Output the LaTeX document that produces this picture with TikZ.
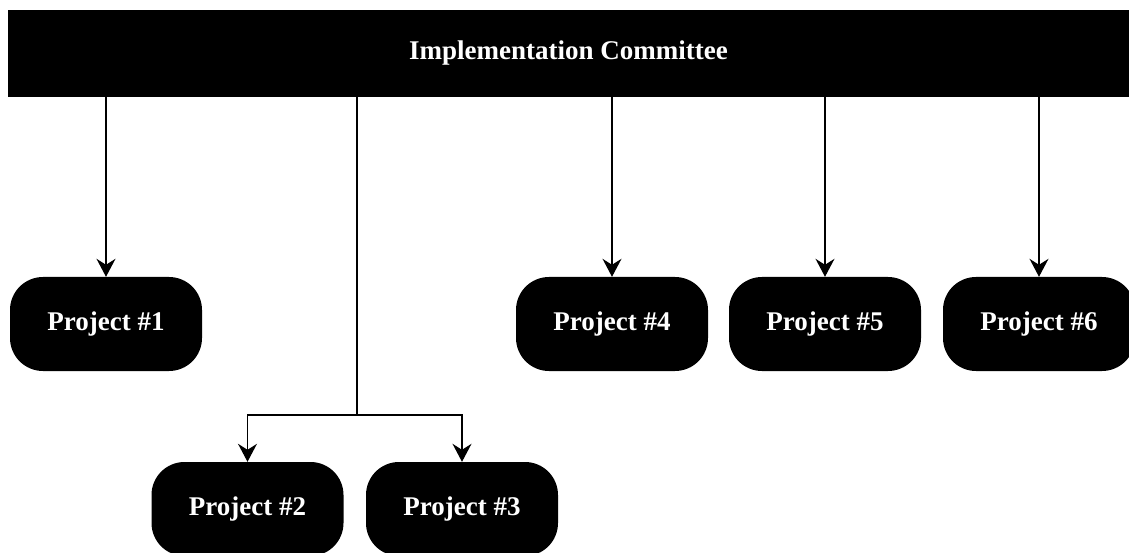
\documentclass[tikz,border=0pt]{standalone}
\usepackage{fontspec}
\setmainfont{Liberation Serif}
\usetikzlibrary{arrows.meta}
\begin{document}
\begin{tikzpicture}[x=1pt,y=1pt,
  bar/.style={fill=black,text=white,inner sep=0pt,minimum width=1121pt,minimum height=87pt,font=\fontsize{27}{30}\selectfont\bfseries},
  proj/.style={fill=black,text=white,rounded corners=33pt,inner sep=0pt,minimum width=192pt,minimum height=94pt,font=\fontsize{27}{30}\selectfont\bfseries},
  conn/.style={line width=1.2pt,-{Stealth[length=18pt,width=19pt,inset=6pt]}},
  plain/.style={line width=1.2pt}]
\useasboundingbox (0,0) rectangle (1129,552);
\clip (0,0) rectangle (1129,552);
\node[bar] (top) at (568.5,498.5) {Implementation Committee};
\node[proj] (p1) at (106,228) {Project \#1};
\node[proj] (p4) at (612,228) {Project \#4};
\node[proj] (p5) at (825,228) {Project \#5};
\node[proj] (p6) at (1039,228) {Project \#6};
\node[proj] (p2) at (247.5,43) {Project \#2};
\node[proj] (p3) at (462,43) {Project \#3};
\coordinate (br) at (357,137);
\draw[conn] (top.south -| p1.north) -- (p1.north);
\draw[conn] (top.south -| p4.north) -- (p4.north);
\draw[conn] (top.south -| p5.north) -- (p5.north);
\draw[conn] (top.south -| p6.north) -- (p6.north);
\draw[plain] (top.south -| br) -- (br);
\draw[conn] (br) -| (p2.north);
\draw[conn] (br) -| (p3.north);
\end{tikzpicture}
\end{document}
